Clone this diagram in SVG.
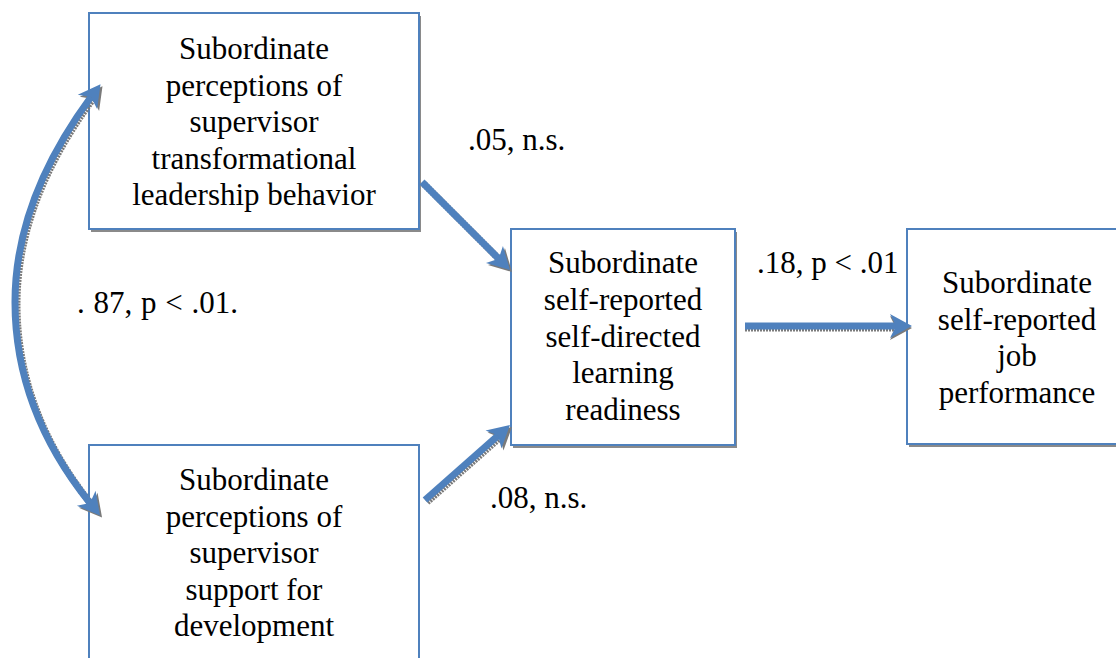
<svg xmlns="http://www.w3.org/2000/svg" width="1116" height="658" viewBox="0 0 1116 658">
<style>
.box{fill:#fff;stroke:#4F81BD;stroke-width:2}
.sh{fill:#8a8a8a}
.t{font-family:"Liberation Serif","Times New Roman",serif;font-size:31px;fill:#000;text-anchor:middle}
.l{font-family:"Liberation Serif","Times New Roman",serif;font-size:31px;fill:#000}
.ar{fill:none;stroke:#4F81BD;stroke-width:7}
.as{fill:none;stroke:#7a7a7a;stroke-width:7;stroke-dasharray:2 1}
</style>
<defs>
<marker id="h" viewBox="-8 -14 26 28" refX="0" refY="0" markerWidth="26" markerHeight="28" markerUnits="userSpaceOnUse" orient="auto-start-reverse">
<path d="M16,0 L-6,-12 L0,0 L-6,12 Z" fill="#4F81BD"/>
</marker>
<marker id="hs" viewBox="-8 -14 26 28" refX="0" refY="0" markerWidth="26" markerHeight="28" markerUnits="userSpaceOnUse" orient="auto-start-reverse">
<path d="M16,0 L-6,-12 L0,0 L-6,12 Z" fill="#7a7a7a"/>
</marker>
</defs>
<g id="n1">
<rect class="sh" x="91" y="16" width="330" height="216"/>
<rect class="box" x="89" y="13" width="330" height="216"/>
<text class="t" x="254" y="59">Subordinate</text>
<text class="t" x="254" y="95.5">perceptions of</text>
<text class="t" x="254" y="132">supervisor</text>
<text class="t" x="254" y="168.5">transformational</text>
<text class="t" x="254" y="205">leadership behavior</text>
</g>
<g id="n2">
<rect class="sh" x="513" y="232" width="224" height="216"/>
<rect class="box" x="511" y="229" width="224" height="216"/>
<text class="t" x="623" y="273">Subordinate</text>
<text class="t" x="623" y="310">self-reported</text>
<text class="t" x="623" y="347">self-directed</text>
<text class="t" x="623" y="383">learning</text>
<text class="t" x="623" y="420">readiness</text>
</g>
<g id="n3">
<rect class="sh" x="909" y="232" width="230" height="215"/>
<rect class="box" x="907" y="229" width="230" height="215"/>
<text class="t" x="1017" y="293">Subordinate</text>
<text class="t" x="1017" y="330">self-reported</text>
<text class="t" x="1017" y="366">job</text>
<text class="t" x="1017" y="403">performance</text>
</g>
<g id="n4">
<rect class="box" x="89" y="445" width="330" height="230"/>
<text class="t" x="254" y="490">Subordinate</text>
<text class="t" x="254" y="527">perceptions of</text>
<text class="t" x="254" y="563">supervisor</text>
<text class="t" x="254" y="600">support for</text>
<text class="t" x="254" y="636">development</text>
</g>
<g id="connectors">
<path class="as" d="M93,99 Q17,202 17,304 Q17,412 92,505" marker-start="url(#hs)" marker-end="url(#hs)"/>
<path class="ar" d="M91,97 Q15,200 15,302 Q15,410 90,503" marker-start="url(#h)" marker-end="url(#h)"/>
<path class="as" d="M424,184 L500.7,260.7" marker-end="url(#hs)"/>
<path class="ar" d="M422,182 L498.7,258.7" marker-end="url(#h)"/>
<path class="as" d="M427,502 L500,437.6" marker-end="url(#hs)"/>
<path class="ar" d="M425,500 L498,435.6" marker-end="url(#h)"/>
<path class="as" d="M745,328 L896,328" marker-end="url(#hs)"/>
<path class="ar" d="M745,326 L896,326" marker-end="url(#h)"/>
</g>
<g id="labels">
<text class="l" x="468" y="150">.05, n.s.</text>
<text class="l" x="757" y="273">.18, p &lt; .01</text>
<text class="l" x="490" y="508">.08, n.s.</text>
<text class="l" x="77" y="313" word-spacing="1">. 87, p &lt; .01.</text>
</g>
</svg>
